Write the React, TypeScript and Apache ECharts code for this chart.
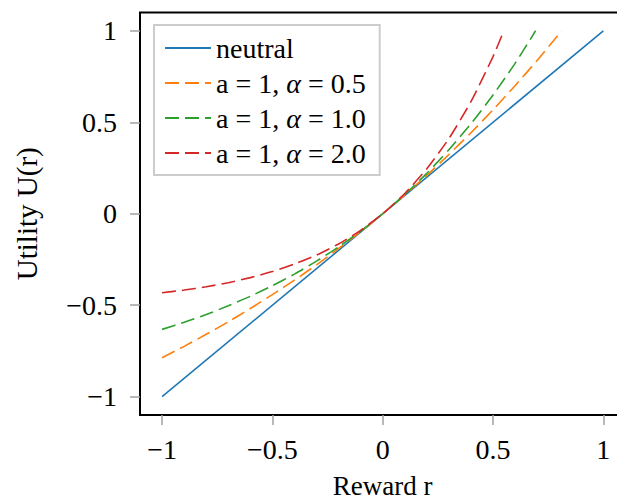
import React, { useEffect, useRef } from "react";
import * as echarts from "echarts";

// Reward r values sampled for the curves
const rNeutral = [-1, 1];
const uNeutral = [-1, 1];

const rA05 = [-1, -0.9, -0.8, -0.7, -0.6, -0.5, -0.4, -0.3, -0.2, -0.1, 0, 0.1, 0.2, 0.3, 0.4, 0.5, 0.6, 0.7, 0.8, 0.811];
const uA05 = [-0.787, -0.725, -0.659, -0.591, -0.518, -0.442, -0.363, -0.279, -0.19, -0.098, 0, 0.103, 0.21, 0.324, 0.443, 0.568, 0.7, 0.838, 0.984, 1.0];

const rA10 = [-1, -0.9, -0.8, -0.7, -0.6, -0.5, -0.4, -0.3, -0.2, -0.1, 0, 0.1, 0.2, 0.3, 0.4, 0.5, 0.6, 0.693];
const uA10 = [-0.632, -0.593, -0.551, -0.503, -0.451, -0.393, -0.33, -0.259, -0.181, -0.095, 0, 0.105, 0.221, 0.35, 0.492, 0.649, 0.822, 1.0];

const rA20 = [-1, -0.9, -0.8, -0.7, -0.6, -0.5, -0.4, -0.3, -0.2, -0.1, 0, 0.1, 0.2, 0.3, 0.4, 0.5, 0.549];
const uA20 = [-0.432, -0.417, -0.399, -0.377, -0.349, -0.316, -0.275, -0.226, -0.165, -0.091, 0, 0.111, 0.246, 0.411, 0.613, 0.859, 1.0];

const seriesNames = ["neutral", "a = 1, α = 0.5", "a = 1, α = 1.0", "a = 1, α = 2.0"];
const seriesColors = ["#1f77b4", "#ff7f0e", "#2ca02c", "#d62728"];

const xTicks = [-1, -0.5, 0, 0.5, 1];
const yTicks = [-1, -0.5, 0, 0.5, 1];

const FONT = "Liberation Serif";

const fmt = (v: number) => (v < 0 ? "\u2212" + String(Math.abs(v)) : String(v));

const zip = (xs: number[], ys: number[]) => xs.map((x, i) => [x, ys[i]]);

export default function App() {
  const ref = useRef<HTMLDivElement>(null);
  useEffect(() => {
    if (!ref.current) return;
    const chart = echarts.init(ref.current, null, { renderer: "svg" });
    const data = [zip(rNeutral, uNeutral), zip(rA05, uA05), zip(rA10, uA10), zip(rA20, uA20)];
    chart.setOption({
      animation: false,
      backgroundColor: "#fff",
      textStyle: { fontFamily: FONT, color: "#000" },
      grid: {
        left: 140,
        top: 12.5,
        right: -8.4,
        bottom: 85,
        containLabel: false,
        outerBoundsMode: "none",
        show: true,
        borderColor: "#000",
        borderWidth: 2,
        backgroundColor: "transparent",
      },
      legend: {
        orient: "vertical",
        left: 154,
        top: 25,
        padding: [8, 14, 7, 10],
        borderColor: "#cccccc",
        borderWidth: 2,
        borderRadius: 0,
        backgroundColor: "#fff",
        itemWidth: 46,
        itemHeight: 14,
        itemGap: 5,
        itemStyle: { opacity: 0 },
        data: seriesNames,
        formatter: (name: string) => {
          const k = name.indexOf("α");
          if (k < 0) return "{t|" + name + "}";
          return "{t|" + name.slice(0, k) + "}{i|α}{t|" + name.slice(k + 1) + "}";
        },
        textStyle: {
          fontFamily: FONT,
          fontSize: 28,
          lineHeight: 30,
          color: "#000",
          rich: {
            t: { fontFamily: FONT, fontSize: 28, lineHeight: 30, color: "#000" },
            i: { fontFamily: FONT, fontSize: 28, fontStyle: "italic", lineHeight: 30, color: "#000" },
          },
        },
      },
      xAxis: {
        type: "value",
        min: -1.1,
        max: 1.1,
        name: "Reward r",
        nameLocation: "middle",
        nameGap: 61,
        nameTextStyle: { fontFamily: FONT, fontSize: 27, lineHeight: 20, color: "#000" },
        axisLine: { show: false, onZero: false },
        splitLine: { show: false },
        axisTick: {
          show: true,
          length: 10,
          lineStyle: { color: "#a0a0a0", width: 1.5 },
          customValues: xTicks,
        },
        axisLabel: {
          fontFamily: FONT,
          fontSize: 28,
          color: "#000",
          margin: 20,
          customValues: xTicks,
          formatter: fmt,
        },
      },
      yAxis: {
        type: "value",
        min: -1.1,
        max: 1.1,
        name: "Utility U(r)",
        nameLocation: "middle",
        nameGap: 99,
        nameRotate: 90,
        nameTextStyle: { fontFamily: FONT, fontSize: 29, color: "#000" },
        axisLine: { show: false, onZero: false },
        splitLine: { show: false },
        axisTick: {
          show: true,
          length: 10,
          lineStyle: { color: "#a0a0a0", width: 1.5 },
          customValues: yTicks,
        },
        axisLabel: {
          fontFamily: FONT,
          fontSize: 28,
          color: "#000",
          margin: 23,
          customValues: yTicks,
          formatter: fmt,
        },
      },
      series: seriesNames.map((name, i) => ({
        name,
        type: "line",
        data: data[i],
        showSymbol: false,
        symbol: "none",
        smooth: i === 0 ? false : 0.2,
        color: seriesColors[i],
        lineStyle: {
          color: seriesColors[i],
          width: 1.6,
          type: i === 0 ? "solid" : [14, 6],
        },
        z: 2,
      })),
    });
    return () => chart.dispose();
  }, []);
  return (
    <div
      ref={ref}
      style={{ position: "fixed", left: 0, top: 0, width: 617, height: 500 }}
    />
  );
}
